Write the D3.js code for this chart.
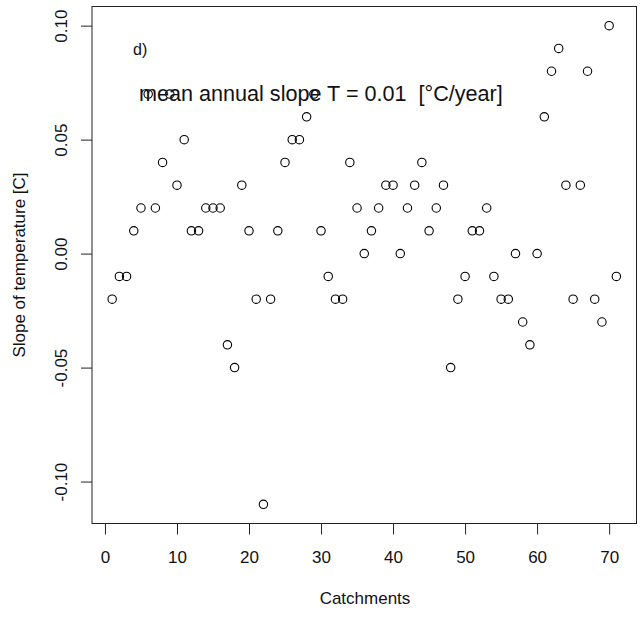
<!DOCTYPE html>
<html>
<head>
<meta charset="utf-8">
<script src="https://cdn.jsdelivr.net/npm/d3@7"></script>
<style>
  body { margin: 0; background: #fff; }
  text { font-family: "Liberation Sans", Arial, sans-serif; fill: #111; }
</style>
</head>
<body>
<svg id="chart" width="643" height="618"></svg>
<script>
// slope of temperature per catchment (index 1..71)
const catchments = d3.range(1, 72);
const slopes = [
  -0.02, -0.01, -0.01, 0.01, 0.02, 0.07, 0.02, 0.04, 0.07, 0.03,
   0.05,  0.01,  0.01, 0.02, 0.02, 0.02, -0.04, -0.05, 0.03, 0.01,
  -0.02, -0.11, -0.02, 0.01, 0.04, 0.05, 0.05, 0.06, 0.07, 0.01,
  -0.01, -0.02, -0.02, 0.04, 0.02, 0.00, 0.01, 0.02, 0.03, 0.03,
   0.00,  0.02,  0.03, 0.04, 0.01, 0.02, 0.03, -0.05, -0.02, -0.01,
   0.01,  0.01,  0.02, -0.01, -0.02, -0.02, 0.00, -0.03, -0.04, 0.00,
   0.06,  0.08,  0.09, 0.03, -0.02, 0.03, 0.08, -0.02, -0.03, 0.10,
  -0.01
];
const xTicks = [0, 10, 20, 30, 40, 50, 60, 70];
const yTicks = [-0.10, -0.05, 0.00, 0.05, 0.10];
const panelLabel = "d)";
const meanLabel = "mean annual slope T = 0.01  [°C/year]";

const box = { left: 92, right: 636.5, top: 6.5, bottom: 523.5 };

// R-style 4% axis expansion
function pad(ext) {
  const d = (ext[1] - ext[0]) * 0.04;
  return [ext[0] - d, ext[1] + d];
}

const x = d3.scaleLinear().domain(pad(d3.extent(catchments))).range([box.left, box.right]);
const y = d3.scaleLinear().domain(pad(d3.extent(slopes))).range([box.bottom, box.top]);

// plain hyphen like R, not the unicode minus
const fmtY = (d) => d3.format(".2f")(d).replace("\u2212", "-");

const svg = d3.select("#chart");

svg.append("rect")
  .attr("x", box.left).attr("y", box.top)
  .attr("width", box.right - box.left).attr("height", box.bottom - box.top)
  .attr("fill", "none").attr("stroke", "#222").attr("stroke-width", 1);

// x axis
const xAxis = svg.append("g")
  .attr("transform", `translate(0,${box.bottom})`)
  .call(d3.axisBottom(x).tickValues(xTicks).tickSize(11).tickPadding(16).tickFormat(d3.format("d")));
xAxis.select(".domain").remove();
xAxis.selectAll("line").attr("stroke", "#222");
xAxis.selectAll("text").style("font-size", "17px").style("font-family", "Liberation Sans, Arial, sans-serif").attr("fill", "#1a1a1a");

// y axis
const yAxis = svg.append("g")
  .attr("transform", `translate(${box.left},0)`)
  .call(d3.axisLeft(y).tickValues(yTicks).tickSize(11).tickFormat(fmtY));
yAxis.select(".domain").remove();
yAxis.selectAll("line").attr("stroke", "#222");
yAxis.selectAll("text")
  .style("font-size", "17px").style("font-family", "Liberation Sans, Arial, sans-serif")
  .attr("fill", "#1a1a1a")
  .attr("x", 0)
  .attr("text-anchor", "middle")
  .attr("transform", "translate(-31,0) rotate(-90)")
  .attr("y", 0).attr("dy", "0.35em");

// points
svg.append("g")
  .selectAll("circle")
  .data(catchments)
  .join("circle")
  .attr("cx", (d) => x(d))
  .attr("cy", (d, i) => y(slopes[i]))
  .attr("r", 4.2)
  .attr("fill", "none")
  .attr("stroke", "#000")
  .attr("stroke-width", 1.1);

// annotations
svg.append("text")
  .attr("x", 133).attr("y", 55)
  .style("font-size", "16px")
  .text(panelLabel);

svg.append("text")
  .attr("x", 139).attr("y", 101)
  .style("font-size", "21.6px")
  .style("white-space", "pre")
  .attr("xml:space", "preserve")
  .text(meanLabel);

// axis titles
svg.append("text")
  .attr("x", 365).attr("y", 604)
  .attr("text-anchor", "middle")
  .style("font-size", "17px")
  .text("Catchments");

svg.append("text")
  .attr("transform", `translate(25,${(box.top + box.bottom) / 2}) rotate(-90)`)
  .attr("text-anchor", "middle")
  .style("font-size", "17px")
  .text("Slope of temperature [C]");
</script>
</body>
</html>
